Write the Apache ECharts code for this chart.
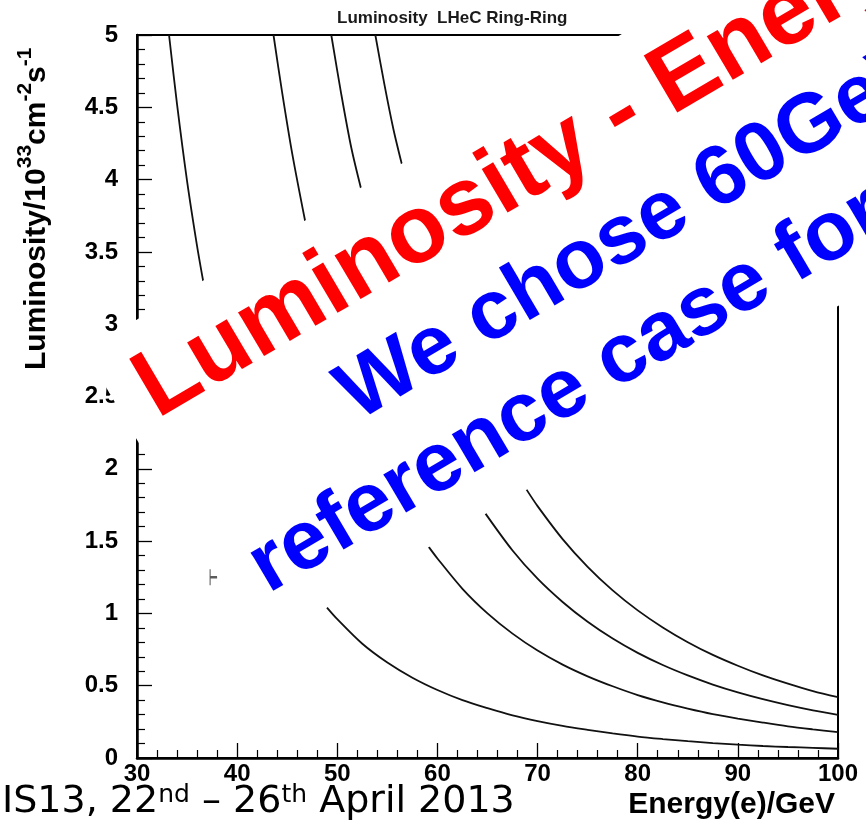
<!DOCTYPE html>
<html>
<head>
<meta charset="utf-8">
<script src="https://cdn.jsdelivr.net/npm/echarts@6/dist/echarts.min.js"></script>
<style>html,body{margin:0;padding:0;background:#fff;}#c{width:866px;height:821px;}</style>
</head>
<body>
<div id="c"></div>
<script>
// ---- data ----
const chartTitle = 'Luminosity  LHeC Ring-Ring';
const xTitle = 'Energy(e)/GeV';
const xMin = 30, xMax = 100, xStep = 10;
const yMin = 0, yMax = 5, yStep = 0.5;

// four luminosity curves; each is visible in two parts (the middle is hidden by the slide text box)
const curveAUpper = [[33.2,5.0],[34,4.52],[35,3.99],[36,3.54],[36.63,3.29]];
const curveALower = [[48.97,1.04],[50,0.96],[52.5,0.79],[55,0.66],[57.5,0.555],[60,0.47],[62.5,0.40],[65,0.345],[67.5,0.295],[70,0.255],[72.5,0.222],[75,0.195],[77.5,0.17],[80,0.148],[82.5,0.131],[85,0.116],[87.5,0.103],[90,0.092],[92.5,0.083],[95,0.076],[97.5,0.07],[100,0.064]];
const curveBUpper = [[43.63,5.0],[44.5,4.60],[45.5,4.18],[46.8,3.71]];
const curveBLower = [[59.13,1.46],[60,1.38],[62.5,1.17],[65,1.0],[67.5,0.86],[70,0.743],[72.5,0.646],[75,0.565],[77.5,0.496],[80,0.435],[82.5,0.385],[85,0.342],[87.5,0.304],[90,0.273],[92.5,0.245],[95,0.219],[97.5,0.198],[100,0.179]];
const curveCUpper = [[49.4,5.0],[50.4,4.59],[51.4,4.22],[52.4,3.93]];
const curveCLower = [[64.8,1.69],[67.5,1.435],[70,1.24],[72.5,1.079],[75,0.942],[77.5,0.826],[80,0.727],[82.5,0.643],[85,0.571],[87.5,0.508],[90,0.454],[92.5,0.407],[95,0.366],[97.5,0.33],[100,0.299]];
const curveDUpper = [[53.8,5.0],[54.7,4.66],[55.6,4.35],[56.47,4.10]];
const curveDLower = [[68.9,1.856],[70,1.742],[72.5,1.514],[75,1.322],[77.5,1.159],[80,1.021],[82.5,0.903],[85,0.801],[87.5,0.713],[90,0.638],[92.5,0.571],[95,0.514],[97.5,0.463],[100,0.421]];
// small stray marker in the plot
const strayMarker = [[37.65,1.25]];

// slide overlay texts
const overlayLine1 = 'Luminosity - Energy';
const overlayLine2 = 'We chose 60GeV as';
const overlayLine3 = 'reference case for';
const footerText = '{m|IS13, 22}{s|nd}{m| \u2013 26}{s|th}{m| April 2013}';

const FONT = "'Liberation Sans', Arial, Helvetica, sans-serif";
const chart = echarts.init(document.getElementById('c'), null, {renderer:'canvas'});

function curveSeries(data){
  return {type:'line', data:data, showSymbol:false, smooth:0.3, clip:true,
    lineStyle:{color:'#111', width:1.8}, z:3, silent:true};
}
const curves = [curveAUpper,curveALower,curveBUpper,curveBLower,curveCUpper,curveCLower,curveDUpper,curveDLower];

const rot = 30.5*Math.PI/180;
const option = {
  animation:false,
  backgroundColor:'#fff',
  title:{text:chartTitle, left:332, top:5,
    textStyle:{fontSize:17, fontWeight:'bold', fontFamily:FONT, color:'#1a1a1a'}},
  grid:{left:137, right:28, top:35, bottom:63, show:true, borderColor:'#000', borderWidth:2, backgroundColor:'transparent'},
  xAxis:{type:'value', min:xMin, max:xMax, interval:xStep,
    name:xTitle, nameLocation:'end', nameGap:0,
    nameTextStyle:{fontSize:30, fontWeight:'bold', fontFamily:FONT, color:'#000', align:'right', verticalAlign:'top', padding:[32,3,0,0]},
    axisLine:{show:true, onZero:false, lineStyle:{color:'#000', width:2.5}},
    axisTick:{show:true, inside:true, length:15, lineStyle:{color:'#000', width:1.3}},
    minorTick:{show:true, splitNumber:5, length:8, lineStyle:{color:'#000', width:1.2}},
    axisLabel:{fontSize:24, fontWeight:'bold', fontFamily:FONT, color:'#000', margin:4},
    splitLine:{show:false}},
  yAxis:{type:'value', min:yMin, max:yMax, interval:yStep,
    axisLine:{show:true, onZero:false, lineStyle:{color:'#000', width:2.5}},
    axisTick:{show:true, inside:true, length:15, lineStyle:{color:'#000', width:1.3}},
    minorTick:{show:true, splitNumber:5, length:8, lineStyle:{color:'#000', width:1.2}},
    axisLabel:{fontSize:24, fontWeight:'bold', fontFamily:FONT, color:'#000', margin:19},
    splitLine:{show:false}},
  series: curves.map(curveSeries).concat([{
    type:'scatter', data:strayMarker, symbol:'path://M0,0L0,16M0,8L7,8', symbolSize:[7,16],
    itemStyle:{color:'rgba(0,0,0,0)', borderColor:'#333', borderWidth:1.6}, silent:true, z:3}]),
  graphic:[
    {type:'text', x:33, y:370, rotation:Math.PI/2, z:50,
      style:{text:'{m|Luminosity/10}{s|33}{m|cm}{s|-2}{m|s}{s|-1}', align:'left', verticalAlign:'middle', fill:'#000',
        rich:{m:{fontSize:30, fontWeight:'bold', fontFamily:FONT, verticalAlign:'bottom', color:'#000'},
              s:{fontSize:21, fontWeight:'bold', fontFamily:FONT, verticalAlign:'top', padding:[0,0,16,0], color:'#000'}}}},
    {type:'group', x:259, y:647, rotation:rot, z:100, children:[
      {type:'rect', shape:{x:0, y:-344, width:1400, height:344}, style:{fill:'#fff'}, z:100},
      {type:'text', x:28, y:-274.6, z:101, style:{text:overlayLine1, fill:'#ff0000', fontSize:96, fontWeight:'bold', fontFamily:FONT, align:'left', verticalAlign:'middle'}},
      {type:'text', x:199, y:-167.4, z:101, style:{text:overlayLine2, fill:'#0000ff', fontSize:84, fontWeight:'bold', fontFamily:FONT, align:'left', verticalAlign:'middle'}},
      {type:'text', x:35, y:-64.4, z:101, style:{text:overlayLine3, fill:'#0000ff', fontSize:84, fontWeight:'bold', fontFamily:FONT, align:'left', verticalAlign:'middle'}}
    ]},
    {type:'text', x:2, y:783, z:110,
      style:{text:footerText, align:'left', verticalAlign:'top',
        rich:{m:{fontSize:38, fontFamily:"'DejaVu Sans', sans-serif", color:'#0b6e3a', verticalAlign:'bottom'},
              s:{fontSize:25, fontFamily:"'DejaVu Sans', sans-serif", color:'#0b6e3a', verticalAlign:'top'}}}}
  ]
};
chart.setOption(option);
</script>
</body>
</html>
